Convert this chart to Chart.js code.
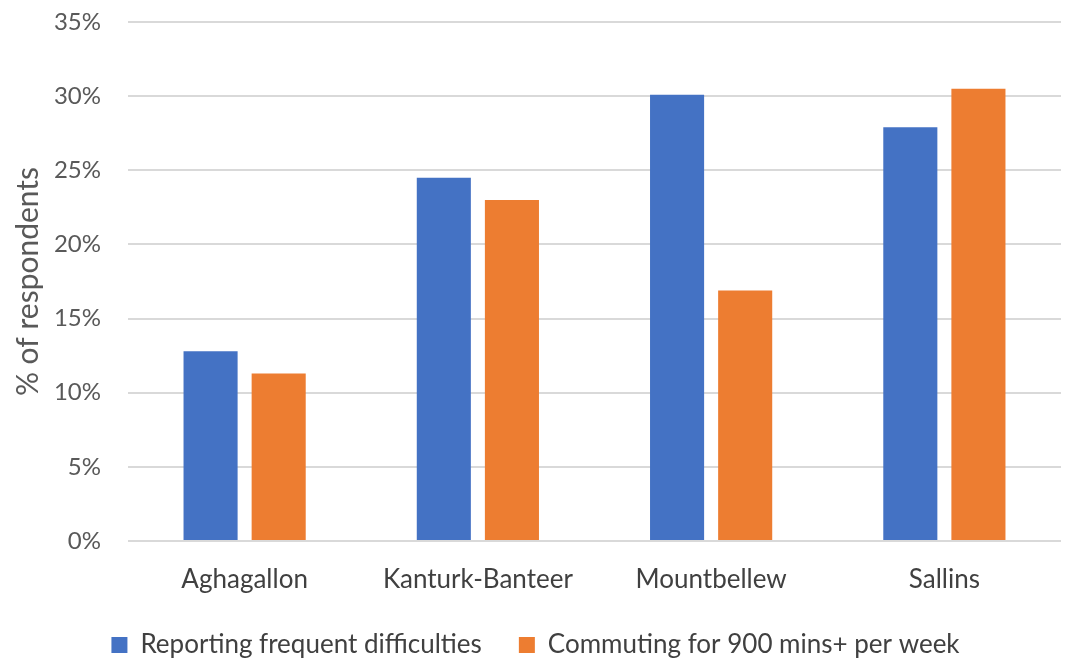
<!DOCTYPE html>
<html>
<head>
<meta charset="utf-8">
<script src="https://cdn.jsdelivr.net/npm/chart.js@4/dist/chart.umd.min.js"></script>
<style>
html,body{margin:0;padding:0;background:#fff;}
#wrap{width:1071px;height:659px;position:relative;}
</style>
</head>
<body>
<div id="wrap"><canvas id="c" width="1071" height="659"></canvas></div>
<script>
const categories = ["Aghagallon", "Kanturk-Banteer", "Mountbellew", "Sallins"];
const seriesNames = ["Reporting frequent difficulties", "Commuting for 900 mins+ per week"];
const reportingDifficulties = [12.8, 24.5, 30.1, 27.9];
const commuting900 = [11.3, 23.0, 16.9, 30.5];
const yTicks = [0, 5, 10, 15, 20, 25, 30, 35];

const FONT = "Lato, 'Open Sans', sans-serif";
Chart.defaults.font.family = FONT;
Chart.defaults.color = "#404040";

new Chart(document.getElementById("c"), {
  type: "bar",
  data: {
    labels: categories,
    datasets: [
      { label: seriesNames[0], data: reportingDifficulties, backgroundColor: "#4472c4", borderWidth: 0 },
      { label: seriesNames[1], data: commuting900, backgroundColor: "#ed7d31", borderWidth: 0 }
    ]
  },
  options: {
    responsive: false,
    animation: false,
    devicePixelRatio: 1,
    layout: { padding: { top: 22, right: 10, left: 10, bottom: -9 } },
    datasets: { bar: { categoryPercentage: 0.584, barPercentage: 0.794 } },
    plugins: {
      tooltip: { enabled: false },
      legend: {
        position: "bottom",
        labels: {
          boxWidth: 16, boxHeight: 16, padding: 37,
          font: { size: 26 }, color: "#404040"
        }
      }
    },
    scales: {
      x: {
        grid: { display: false, drawTicks: false },
        border: { display: false },
        afterFit: (scale) => { scale.height = 54; },
        ticks: { font: { size: 26 }, color: "#404040", padding: 23 }
      },
      y: {
        min: 0, max: 35,
        afterBuildTicks: (axis) => { axis.ticks = yTicks.map(v => ({ value: v })); },
        afterFit: (scale) => { scale.width = 118; scale.paddingTop = 0; scale.paddingBottom = 0; },
        ticks: { font: { size: 24 }, color: "#595959", padding: 27, callback: v => v + "%" },
        grid: { color: "#d9d9d9", lineWidth: 2, drawTicks: false },
        border: { display: false },
        title: { display: true, text: "% of respondents", font: { size: 30 }, color: "#595959", padding: { top: 0, bottom: 8 } }
      }
    }
  }
});
</script>
</body>
</html>
